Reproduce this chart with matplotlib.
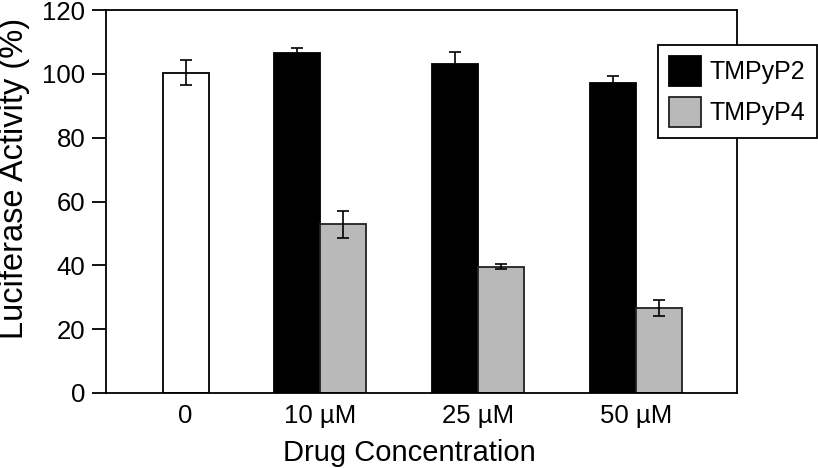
import matplotlib
matplotlib.use("Agg")
import matplotlib.pyplot as plt

plt.rcParams['font.family'] = ['Liberation Sans', 'DejaVu Sans']

groups = ["0", "10 µM", "25 µM", "50 µM"]
control = 100.4
control_err = 4.0
tmpyp2 = [106.4, 103.0, 97.0]
tmpyp2_err = [1.8, 3.7, 2.4]
tmpyp4 = [52.8, 39.5, 26.6]
tmpyp4_err = [4.2, 0.8, 2.6]

# layout (data units along x)
pos = [0.15, 1, 2, 3]
w = 0.29

fig = plt.figure(figsize=(8.18, 4.68), dpi=100)
ax = fig.add_axes([106 / 818, 1 - 393 / 468, (737 - 106) / 818, (393 - 10) / 468])

err_kw = dict(ecolor='black', elinewidth=1.2, capsize=4.5, capthick=1.2)

ax.bar(pos[0], control, w, yerr=control_err, color='white', edgecolor='black',
       linewidth=1.3, error_kw=err_kw)
b2 = ax.bar([p - w / 2 for p in pos[1:]], tmpyp2, w, yerr=tmpyp2_err,
            color='black', edgecolor='black', linewidth=1.3, error_kw=err_kw,
            label='TMPyP2')
b4 = ax.bar([p + w / 2 for p in pos[1:]], tmpyp4, w, yerr=tmpyp4_err,
            color='#b9b9b9', edgecolor='#222222', linewidth=1.3, error_kw=err_kw,
            label='TMPyP4')

ax.set_xlim(-0.354, 3.64)
ax.set_ylim(0, 120)
ax.set_yticks([0, 20, 40, 60, 80, 100, 120])
ax.set_xticks(pos)
ax.set_xticklabels(groups)
ax.tick_params(axis='x', length=0, pad=8, labelsize=18.5)
ax.tick_params(axis='y', length=10, width=1.3, pad=5, labelsize=18.5)
for s in ax.spines.values():
    s.set_linewidth(1.3)

ax.set_xlabel('Drug Concentration', fontsize=21)
ax.set_ylabel('Luciferase Activity (%)', fontsize=23.5)
ax.xaxis.set_label_coords(0.48, -0.12)
ax.yaxis.set_label_coords(-0.12, 0.56)

leg = ax.legend(handles=[b2, b4], loc='upper right',
                bbox_to_anchor=(817 / 818, 1 - 45 / 468),
                bbox_transform=fig.transFigure, borderaxespad=0,
                fontsize=18, frameon=True, fancybox=False,
                handlelength=1.3, handleheight=1.45, handletextpad=0.35,
                labelspacing=0.45, borderpad=0.45)
leg.get_frame().set_edgecolor('black')
leg.get_frame().set_linewidth(1.3)
leg.get_frame().set_alpha(1)
leg.set_zorder(10)

fig.savefig('out.png', dpi=100)
